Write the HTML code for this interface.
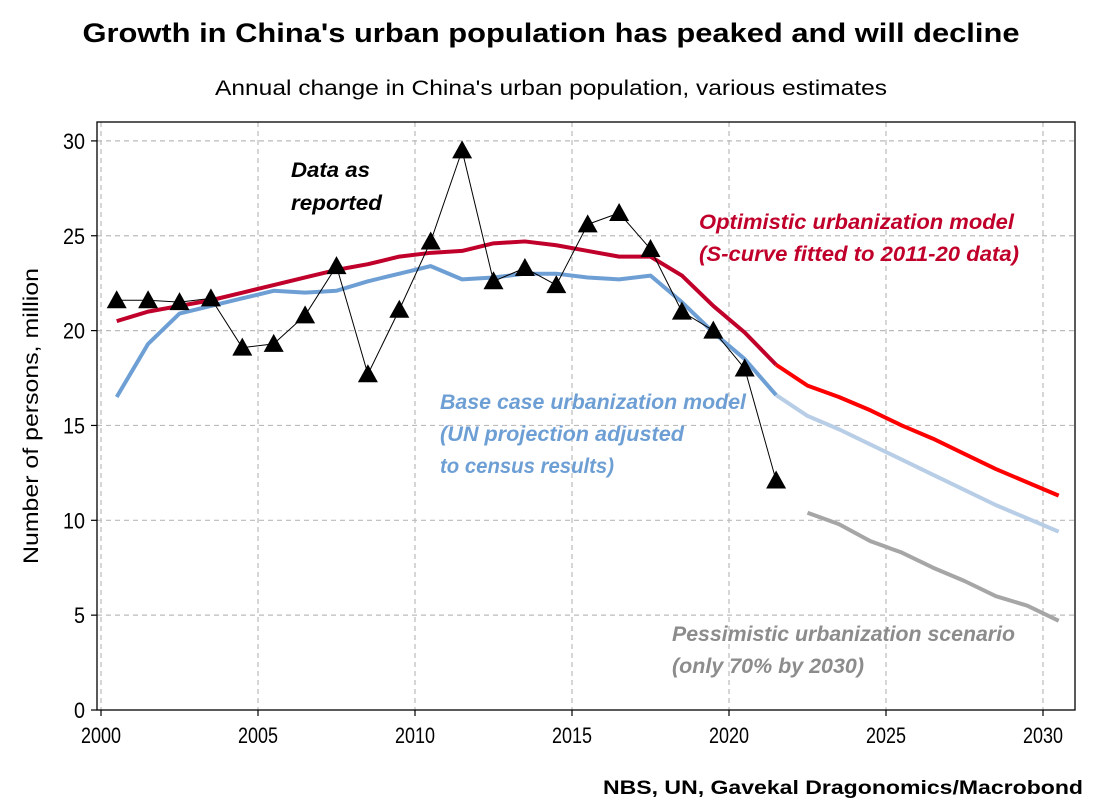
<!DOCTYPE html>
<html><head><meta charset="utf-8"><style>
html,body{margin:0;padding:0;background:#fff}
svg{display:block;font-family:"Liberation Sans",sans-serif}
</style></head><body>
<svg id="c" width="1095" height="805" viewBox="0 0 1095 805">
<text x="551" y="42" text-anchor="middle" font-size="27" font-weight="bold" textLength="937" lengthAdjust="spacingAndGlyphs">Growth in China's urban population has peaked and will decline</text>
<text x="551" y="95" text-anchor="middle" font-size="21" textLength="672" lengthAdjust="spacingAndGlyphs">Annual change in China's urban population, various estimates</text>
<text transform="translate(38,416) rotate(-90)" text-anchor="middle" font-size="21" textLength="296" lengthAdjust="spacingAndGlyphs">Number of persons, million</text>
<text x="1083" y="794" text-anchor="end" font-size="19" font-weight="bold" textLength="480" lengthAdjust="spacingAndGlyphs">NBS, UN, Gavekal Dragonomics/Macrobond</text>
<g id="grid"></g>
<g id="axes"></g>
<g id="series"></g>
<g font-style="italic" font-weight="bold" font-size="21">
<text x="291" y="177" textLength="79" lengthAdjust="spacingAndGlyphs">Data as</text>
<text x="291" y="210" textLength="91" lengthAdjust="spacingAndGlyphs">reported</text>
<text x="699" y="229" fill="#c0002a" textLength="315" lengthAdjust="spacingAndGlyphs">Optimistic urbanization model</text>
<text x="699" y="261" fill="#c0002a" textLength="320" lengthAdjust="spacingAndGlyphs">(S-curve fitted to 2011-20 data)</text>
<text x="440" y="409" fill="#6e9fd4" textLength="306" lengthAdjust="spacingAndGlyphs">Base case urbanization model</text>
<text x="440" y="441" fill="#6e9fd4" textLength="244" lengthAdjust="spacingAndGlyphs">(UN projection adjusted</text>
<text x="440" y="473" fill="#6e9fd4" textLength="174" lengthAdjust="spacingAndGlyphs">to census results)</text>
<text x="672" y="641" fill="#8c8c8c" textLength="343" lengthAdjust="spacingAndGlyphs">Pessimistic urbanization scenario</text>
<text x="672" y="673" fill="#8c8c8c" textLength="192" lengthAdjust="spacingAndGlyphs">(only 70% by 2030)</text>
</g>
</svg>
<script>
const xTicks=[2000,2005,2010,2015,2020,2025,2030];
const yTicks=[0,5,10,15,20,25,30];
const reportedYears=[2000.5,2001.5,2002.5,2003.5,2004.5,2005.5,2006.5,2007.5,2008.5,2009.5,2010.5,2011.5,2012.5,2013.5,2014.5,2015.5,2016.5,2017.5,2018.5,2019.5,2020.5,2021.5];
const reported=[21.6,21.6,21.5,21.7,19.1,19.3,20.8,23.4,17.7,21.1,24.7,29.5,22.6,23.3,22.4,25.6,26.2,24.3,21.0,20.0,18.0,12.1];
const optHistYears=reportedYears;
const optHist=[20.5,21.0,21.3,21.6,22.0,22.4,22.8,23.2,23.5,23.9,24.1,24.2,24.6,24.7,24.5,24.2,23.9,23.9,22.9,21.3,19.9,18.2];
const projYears=[2021.5,2022.5,2023.5,2024.5,2025.5,2026.5,2027.5,2028.5,2029.5,2030.5];
const optProj=[18.2,17.1,16.5,15.8,15.0,14.3,13.5,12.7,12.0,11.3];
const baseHist=[16.5,19.3,20.9,21.3,21.7,22.1,22.0,22.1,22.6,23.0,23.4,22.7,22.8,23.0,23.0,22.8,22.7,22.9,21.5,19.9,18.5,16.6];
const baseProj=[16.6,15.5,14.8,14.0,13.2,12.4,11.6,10.8,10.1,9.4];
const pessYears=[2022.5,2023.5,2024.5,2025.5,2026.5,2027.5,2028.5,2029.5,2030.5];
const pess=[10.4,9.8,8.9,8.3,7.5,6.8,6.0,5.5,4.7];
const NS='http://www.w3.org/2000/svg';
const L=97,R=1075,T=122,B=710;
const X=y=>101+(y-2000)*31.4;
const Y=v=>710-v*18.97;
function mk(tag,attrs,parent){const e=document.createElementNS(NS,tag);for(const k in attrs)e.setAttribute(k,attrs[k]);parent.appendChild(e);return e;}
const grid=document.getElementById('grid'),axes=document.getElementById('axes'),ser=document.getElementById('series');
xTicks.forEach(t=>{
 const g=mk('line',{x1:X(t),x2:X(t),y1:T,y2:B,stroke:'#bbb','stroke-dasharray':'5,4','stroke-width':1.2},grid);
 
 
 const tk=mk('line',{x1:X(t),x2:X(t),y1:B,y2:B+6,stroke:'#000','stroke-width':1.2},axes);
 
 
 const tx=mk('text',{x:X(t),y:B+33,'text-anchor':'middle','font-size':22,textLength:40,lengthAdjust:'spacingAndGlyphs'},axes);
 tx.textContent=t;
 
 
});
yTicks.forEach(t=>{
 if(t>0){const g=mk('line',{x1:L,x2:R,y1:Y(t),y2:Y(t),stroke:'#bbb','stroke-dasharray':'5,4','stroke-width':1.2},grid);
 
 }
 const tk=mk('line',{x1:L-6,x2:L,y1:Y(t),y2:Y(t),stroke:'#000','stroke-width':1.2},axes);
 
 
 const tx=mk('text',{x:L-12,y:Y(t)+8,'text-anchor':'end','font-size':22,textLength:String(t).length*11,lengthAdjust:'spacingAndGlyphs'},axes);
 tx.textContent=t;
 
 
});
const fr=mk('rect',{x:L,y:T,width:R-L,height:B-T,fill:'none',stroke:'#000','stroke-width':1.3},axes);


function line(xs,vs,color,w,name){
 const p=mk('polyline',{points:xs.map((x,i)=>X(x)+','+Y(vs[i])).join(' '),fill:'none',stroke:color,'stroke-width':w,'stroke-linejoin':'round'},ser);
 
 
}
line(pessYears,pess,'#a6a6a6',4,'pessimistic-line');
line(projYears,baseProj,'#b8cde6',4,'base-projection-line');
line(reportedYears,baseHist,'#6e9fd4',4,'base-history-line');
line(projYears,optProj,'#ff0000',4,'optimistic-projection-line');
line(optHistYears,optHist,'#c0002a',4,'optimistic-history-line');
line(reportedYears,reported,'#000',1,'reported-line');
reportedYears.forEach((yr,i)=>{
 const cx=X(yr),cy=Y(reported[i]);
 const m=mk('polygon',{points:`${cx},${cy-10} ${cx-10},${cy+8} ${cx+10},${cy+8}`,fill:'#000'},ser);
 
 
});
</script>
</body></html>
